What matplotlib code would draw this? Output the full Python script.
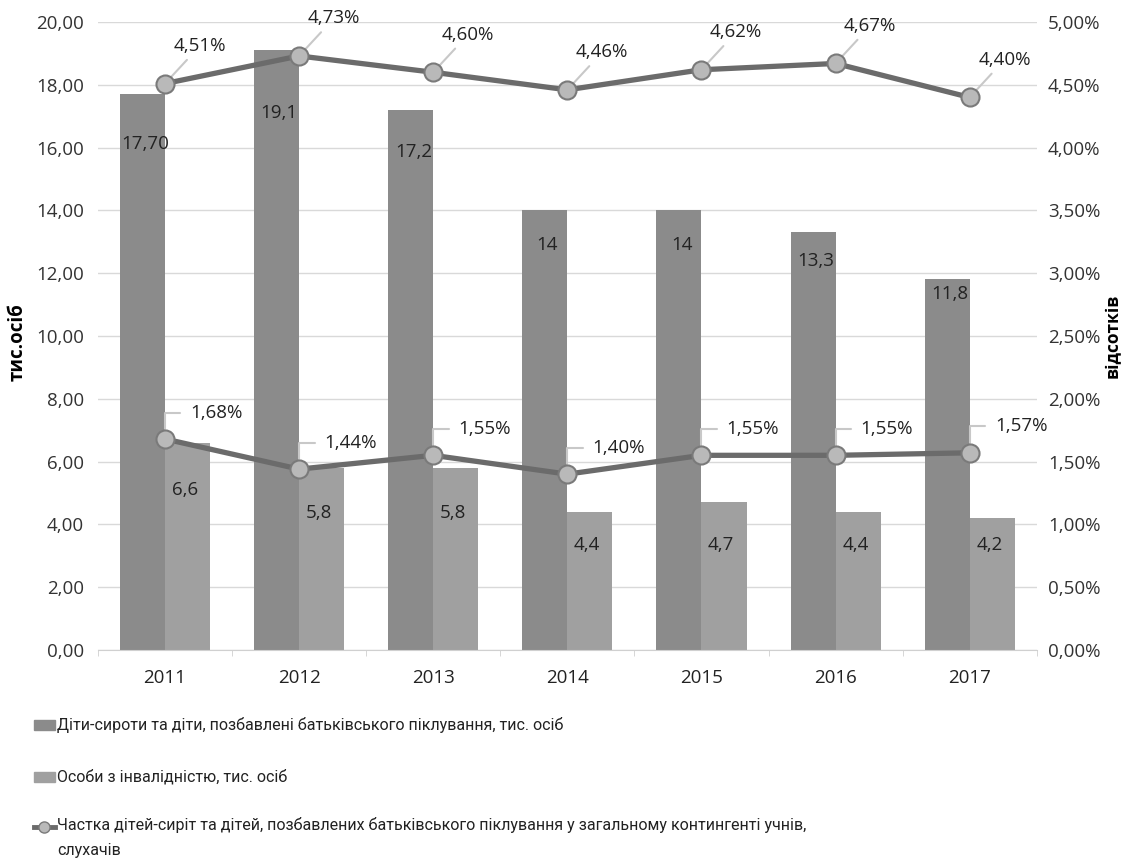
import matplotlib
matplotlib.use("Agg")
import matplotlib.pyplot as plt
import numpy as np
from matplotlib.patches import Rectangle
from matplotlib.lines import Line2D

years = ["2011", "2012", "2013", "2014", "2015", "2016", "2017"]
orphans = [17.70, 19.1, 17.2, 14, 14, 13.3, 11.8]
orphans_lbl = ["17,70", "19,1", "17,2", "14", "14", "13,3", "11,8"]
disabled = [6.6, 5.8, 5.8, 4.4, 4.7, 4.4, 4.2]
disabled_lbl = ["6,6", "5,8", "5,8", "4,4", "4,7", "4,4", "4,2"]
share_orph = [4.51, 4.73, 4.60, 4.46, 4.62, 4.67, 4.40]
share_dis = [1.68, 1.44, 1.55, 1.40, 1.55, 1.55, 1.57]

# label offsets below bar top (data units)
orph_off = [1.6, 2.0, 1.35, 1.1, 1.1, 0.9, 0.45]
dis_off = [1.5, 1.45, 1.45, 1.05, 1.35, 1.05, 0.85]

FONT = ["Open Sans", "DejaVu Sans"]
plt.rcParams['font.family'] = FONT

fig = plt.figure(figsize=(11.22, 8.67), dpi=100)
ax = fig.add_axes([0.0873, 0.2503, 0.8367, 0.7243])
ax2 = ax.twinx()

x = np.arange(len(years))
w = 0.336
c1 = "#8b8b8b"
c2 = "#a0a0a0"
ax.bar(x - w/2, orphans, w, color=c1, zorder=2)
ax.bar(x + w/2, disabled, w, color=c2, zorder=2)

FS = 13.5
for i in range(len(years)):
    ax.text(x[i] - w/2 + 0.02, orphans[i] - orph_off[i], orphans_lbl[i], ha="center", va="center",
            fontsize=FS, color="#222222", zorder=5)
    ax.text(x[i] + w/2 - 0.02, disabled[i] - dis_off[i], disabled_lbl[i], ha="center", va="center",
            fontsize=FS, color="#222222", zorder=5)

ax.set_ylim(0, 20)
ax.set_yticks(np.arange(0, 20.01, 2))
ax.set_yticklabels([f"{v:.2f}".replace(".", ",") for v in np.arange(0, 20.01, 2)], fontsize=FS, color="#333333")
ax.set_xlim(-0.5, len(years) - 0.5)
ax.set_xticks(x)
ax.set_xticklabels(years, fontsize=FS, color="#222222")
ax.set_xticks(np.arange(-0.5, len(years), 1), minor=True)
ax.tick_params(axis="x", which="major", length=0, pad=14)
ax.tick_params(axis="x", which="minor", length=4, color="#d0d0d0")
ax.tick_params(axis="y", length=0, pad=10)
ax.grid(axis="y", color="#d9d9d9", linewidth=1, zorder=0)
ax.set_axisbelow(True)
for s in ["top", "right", "left"]:
    ax.spines[s].set_visible(False)
ax.spines["bottom"].set_color("#d0d0d0")
for s in ["top", "right", "left", "bottom"]:
    ax2.spines[s].set_visible(False)

ax.set_ylabel("тис.осіб", fontsize=FS, fontweight="bold")
ax.yaxis.set_label_coords(-0.075, 0.49)

lc = "#6b6b6b"
mface = "#b9b9b9"
for series in (share_orph, share_dis):
    ax2.plot(x, series, color=lc, linewidth=3.8, marker="o", markersize=13,
             markerfacecolor=mface, markeredgecolor="#7a7a7a", markeredgewidth=1.5, zorder=4)

for i in range(len(years)):
    ax2.annotate(f"{share_orph[i]:.2f}%".replace(".", ","), xy=(x[i], share_orph[i]),
                 xytext=(25, 27), textcoords="offset points", fontsize=FS, color="#222222",
                 ha="center", va="center",
                 arrowprops=dict(arrowstyle="-", color="#c8c8c8", lw=1.5, shrinkA=2, shrinkB=7))
    ax2.annotate(f"{share_dis[i]:.2f}%".replace(".", ","), xy=(x[i], share_dis[i]),
                 xytext=(37, 19), textcoords="offset points", fontsize=FS, color="#222222",
                 ha="center", va="center",
                 arrowprops=dict(arrowstyle="-", color="#c8c8c8", lw=1.5, shrinkA=5, shrinkB=7,
                                 connectionstyle="angle,angleA=0,angleB=90,rad=0"))

ax2.set_ylim(0, 5)
ax2.set_yticks(np.arange(0, 5.01, 0.5))
ax2.set_yticklabels([f"{v:.2f}%".replace(".", ",") for v in np.arange(0, 5.01, 0.5)], fontsize=FS, color="#333333")
ax2.tick_params(axis="y", length=0, pad=8)
ax2.set_ylabel("відсотків", fontsize=12.5, fontweight="bold")
ax2.yaxis.set_label_coords(1.071, 0.50)

# legend
lx = 0.030
entries = [
    (1 - 725 / 867, "patch", c1, "Діти-сироти та діти, позбавлені батьківського піклування, тис. осіб"),
    (1 - 777 / 867, "patch", c2, "Особи з інвалідністю, тис. осіб"),
    (1 - 827 / 867, "line", None, "Частка дітей-сиріт та дітей, позбавлених батьківського піклування у загальному контингенті учнів,\nслухачів"),
]
for yy, kind, col, label in entries:
    if kind == "patch":
        fig.patches.append(Rectangle((lx, yy - 0.006), 0.019, 0.012, transform=fig.transFigure,
                                     color=col, figure=fig))
    else:
        fig.lines.append(Line2D([lx, lx + 0.019], [yy, yy], transform=fig.transFigure, color=lc,
                                linewidth=3.5, figure=fig))
        fig.lines.append(Line2D([lx + 0.0095], [yy], transform=fig.transFigure, marker="o",
                                markersize=8, markerfacecolor=mface, markeredgecolor="#7a7a7a",
                                figure=fig))
    multi = "\n" in label
    fig.text(lx + 0.021, yy + (0.012 if multi else 0), label, fontsize=11.5,
             family=["Roboto", "DejaVu Sans"],
             va="top" if multi else "center", color="#222222", linespacing=1.9)

fig.savefig("out.png", dpi=100)
